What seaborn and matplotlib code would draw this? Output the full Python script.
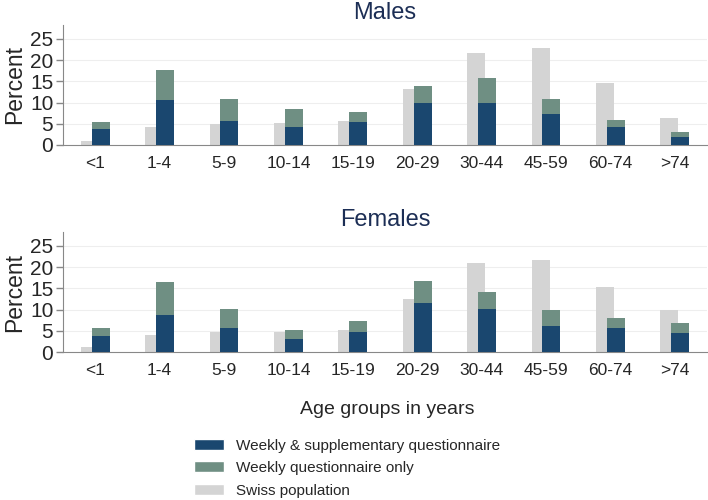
import numpy as np
import pandas as pd
import matplotlib
matplotlib.use("Agg")
import matplotlib.pyplot as plt
import seaborn as sns
from matplotlib.patches import Patch

# Age groups and percentages
age_groups = ["<1", "1-4", "5-9", "10-14", "15-19", "20-29", "30-44", "45-59", "60-74", ">74"]

males_swiss = [1.0, 4.2, 5.0, 5.1, 5.6, 13.1, 21.7, 22.8, 14.7, 6.4]
males_weekly_supp = [3.7, 10.6, 5.7, 4.2, 5.5, 9.8, 9.9, 7.3, 4.3, 1.9]
males_weekly_total = [5.4, 17.6, 10.9, 8.5, 7.8, 14.0, 15.9, 10.8, 6.0, 3.1]

females_swiss = [1.1, 3.9, 4.7, 4.8, 5.3, 12.5, 20.9, 21.8, 15.4, 9.8]
females_weekly_supp = [3.7, 8.7, 5.7, 3.1, 4.7, 11.5, 10.1, 6.1, 5.7, 4.5]
females_weekly_total = [5.6, 16.4, 10.2, 5.1, 7.4, 16.8, 14.1, 9.8, 8.1, 6.8]

legend_labels = ["Weekly & supplementary questionnaire", "Weekly questionnaire only", "Swiss population"]

c_blue = "#1a476f"
c_green = "#6f8f83"
c_grey = "#d4d4d4"
c_title = "#1c2e55"

sns.set_style("white")
plt.rcParams["font.family"] = ["Liberation Sans", "DejaVu Sans"]

fig = plt.figure(figsize=(7.08, 5), dpi=100)
ax_m = fig.add_axes([63 / 708, 0.71, 644 / 708, 0.24])
ax_f = fig.add_axes([63 / 708, 0.296, 644 / 708, 0.24])

pos = np.arange(len(age_groups))


def draw_panel(ax, swiss, supp, total, title):
    df = pd.DataFrame({"pos": pos, "swiss": swiss, "supp": supp, "total": total})
    sns.barplot(x=df["pos"] - 0.085, y=df["swiss"], native_scale=True, width=0.28,
                color=c_grey, saturation=1, linewidth=0, ax=ax, zorder=2)
    sns.barplot(x=df["pos"] + 0.085, y=df["total"], native_scale=True, width=0.28,
                color=c_green, saturation=1, linewidth=0, ax=ax, zorder=3)
    sns.barplot(x=df["pos"] + 0.085, y=df["supp"], native_scale=True, width=0.28,
                color=c_blue, saturation=1, linewidth=0, ax=ax, zorder=4)
    ax.set_xlim(-0.5, len(age_groups) - 0.5)
    ax.set_ylim(0, 28.3)
    ax.set_xticks(pos)
    ax.set_xticklabels(age_groups, fontsize=12.5)
    ax.set_yticks([0, 5, 10, 15, 20, 25])
    ax.set_yticklabels(["0", "5", "10", "15", "20", "25"], fontsize=15)
    ax.tick_params(axis="x", length=0, pad=8)
    ax.tick_params(axis="y", length=5, width=1, color="#888888", pad=2, left=True)
    ax.set_xlabel("")
    ax.set_ylabel("Percent", fontsize=16.5, labelpad=3)
    ax.set_title(title, fontsize=17, color=c_title, pad=4)
    for y in [5, 10, 15, 20, 25]:
        ax.axhline(y, color="#eeeeee", linewidth=0.8, zorder=1)
    sns.despine(ax=ax, top=True, right=True)
    ax.spines["left"].set_color("#888888")
    ax.spines["bottom"].set_color("#888888")


draw_panel(ax_m, males_swiss, males_weekly_supp, males_weekly_total, "Males")
draw_panel(ax_f, females_swiss, females_weekly_supp, females_weekly_total, "Females")

fig.text(387 / 708, 1 - 410 / 500, "Age groups in years", fontsize=14, ha="center", va="center")

handles = [Patch(facecolor=c_blue), Patch(facecolor=c_green), Patch(facecolor=c_grey)]
fig.legend(handles, legend_labels, loc="upper left", bbox_to_anchor=(180 / 708, 1 - 425 / 500),
           frameon=False, fontsize=11, handlelength=2.0, handleheight=0.75,
           handletextpad=0.75, labelspacing=0.55)

fig.savefig("out.png", dpi=100)
